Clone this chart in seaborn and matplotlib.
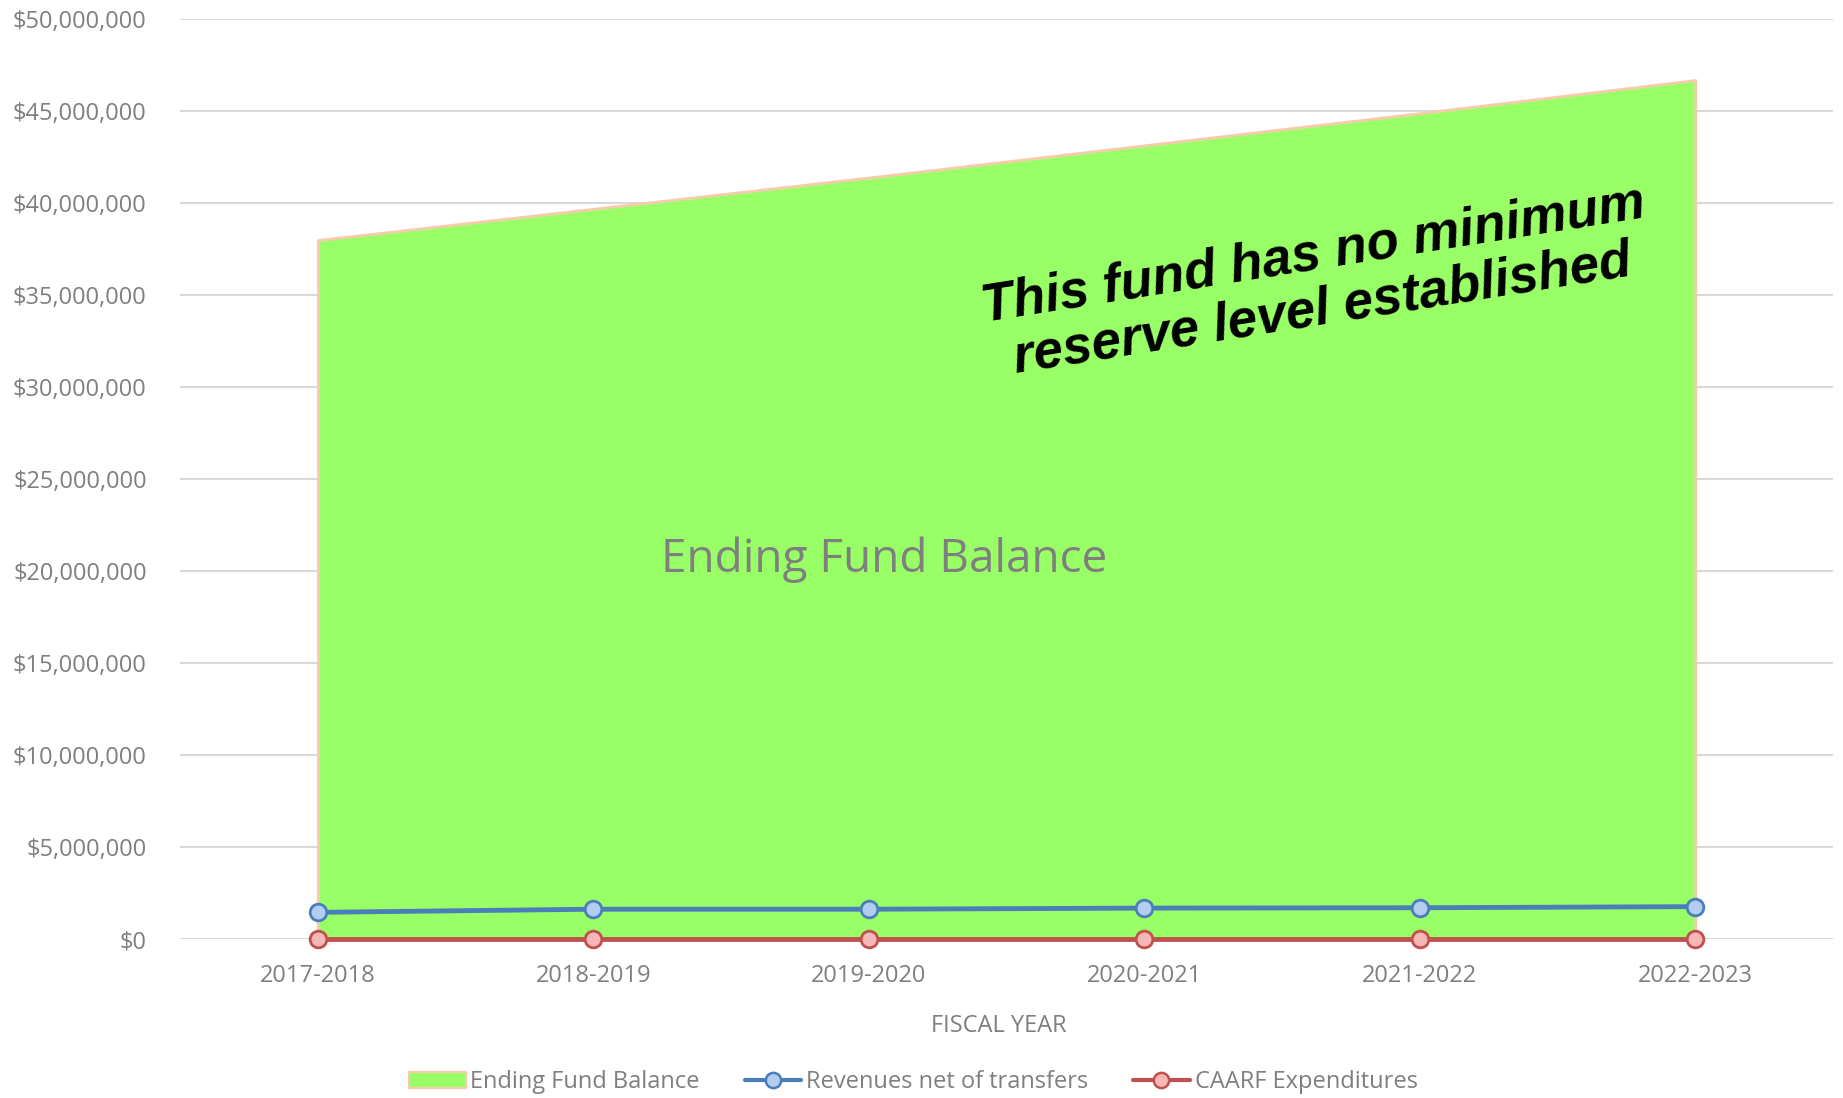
import matplotlib
matplotlib.use("Agg")
import matplotlib.pyplot as plt
import seaborn as sns
import numpy as np
import pandas as pd
from matplotlib.ticker import FuncFormatter, MultipleLocator
from matplotlib.lines import Line2D
from matplotlib.patches import Patch

years = ["2017-2018", "2018-2019", "2019-2020", "2020-2021", "2021-2022", "2022-2023"]
ending_fund_balance = [38.0e6, 39.7e6, 41.4e6, 43.15e6, 44.9e6, 46.7e6]
revenues_net = [1.45e6, 1.62e6, 1.62e6, 1.68e6, 1.70e6, 1.76e6]
caarf_expenditures = [0, 0, 0, 0, 0, 0]

sns.set_theme(style="white")
plt.rcParams['font.family'] = ['Open Sans', 'DejaVu Sans']

fig = plt.figure(figsize=(18.43, 10.98), dpi=100)
ax = fig.add_axes([0.0977, 0.1448, 0.8969, 0.8376])

x = np.arange(len(years))
green = "#99ff66"
ax.fill_between(x, 0, ending_fund_balance, color=green, edgecolor="#f8cbad", linewidth=2, zorder=2)

df = pd.DataFrame({"x": np.concatenate([x, x]),
                   "val": revenues_net + caarf_expenditures,
                   "series": ["Revenues net of transfers"] * 6 + ["CAARF Expenditures"] * 6})
sns.lineplot(data=df[df.series == "Revenues net of transfers"], x="x", y="val", ax=ax,
             color="#4a7ebb", linewidth=3.5, marker="o", markersize=12,
             markerfacecolor="#b3cdf0", markeredgecolor="#4a7ebb", markeredgewidth=2,
             zorder=4, clip_on=False, legend=False)
sns.lineplot(data=df[df.series == "CAARF Expenditures"], x="x", y="val", ax=ax,
             color="#c0504d", linewidth=3.5, marker="o", markersize=12,
             markerfacecolor="#f7b7b7", markeredgecolor="#c0504d", markeredgewidth=2,
             zorder=4, clip_on=False, legend=False)

ax.set_xlim(-0.5, 5.5)
ax.set_ylim(0, 50e6)
ax.yaxis.set_major_locator(MultipleLocator(5e6))
ax.yaxis.set_major_formatter(FuncFormatter(lambda v, p: "${:,.0f}".format(v)))
ax.set_xticks(x)
ax.set_xticklabels(years)
ax.grid(axis="y", color="#d9d9d9", linewidth=1.5, zorder=0)
ax.set_axisbelow(True)
for s in ax.spines.values():
    s.set_visible(False)
ax.tick_params(axis="both", colors="#7f7f7f", labelsize=17, length=0)
ax.tick_params(axis="y", pad=24)
ax.tick_params(axis="x", pad=18)
ax.set_xlabel("FISCAL YEAR", color="#7f7f7f", fontsize=17)
ax.xaxis.set_label_coords(0.4955, -0.082)
ax.set_ylabel("")

ax.text(2.056, 20.6e6, "Ending Fund Balance", fontsize=33, color="#7f7f7f",
        ha="center", va="center", zorder=5)
ax.text(3.63, 35.7e6, "This fund has no minimum\nreserve level established",
        fontsize=38, fontweight="bold", fontstyle="italic", color="black",
        family=["Liberation Sans"], ha="center", va="center", rotation=9,
        linespacing=1.15, zorder=5)

handles = [Patch(facecolor=green, edgecolor="#f8cbad", linewidth=1.5),
           Line2D([0], [0], color="#4a7ebb", linewidth=3, marker="o", markersize=11,
                  markerfacecolor="#b3cdf0", markeredgecolor="#4a7ebb", markeredgewidth=1.8),
           Line2D([0], [0], color="#c0504d", linewidth=3, marker="o", markersize=11,
                  markerfacecolor="#f7b7b7", markeredgecolor="#c0504d", markeredgewidth=1.8)]
labels = ["Ending Fund Balance", "Revenues net of transfers", "CAARF Expenditures"]
leg = fig.legend(handles, labels, loc="center", bbox_to_anchor=(0.4955, 0.0145), ncol=3,
                 frameon=False, fontsize=17, labelcolor="#7f7f7f", handlelength=2.4,
                 handletextpad=0.2, columnspacing=1.9)

fig.savefig("out.png", dpi=100)
